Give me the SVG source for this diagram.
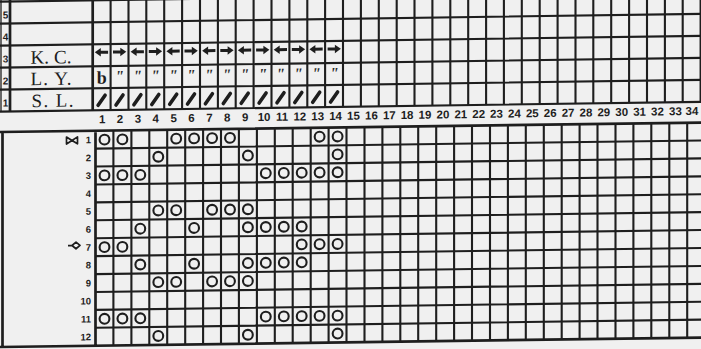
<svg xmlns="http://www.w3.org/2000/svg" width="701" height="349" viewBox="0 0 701 349">
<style>
.bg{fill:#f0f0f0}
.g{fill:none;stroke:#1e1e1e;stroke-width:2.1}
.tk{fill:none;stroke:#1e1e1e;stroke-width:2.7}
.thin{fill:none;stroke:#1e1e1e;stroke-width:1.3}
.o{fill:none;stroke:#1e1e1e;stroke-width:2.1}
.sl{stroke:#1e1e1e;stroke-width:3.6;stroke-linecap:round}
.mk{fill:none;stroke:#1e1e1e;stroke-width:1.7;stroke-linejoin:round}
.lab{font-family:"Liberation Serif",serif;font-size:19px;fill:#1e1e1e}
.num{font-family:"Liberation Sans",sans-serif;font-weight:bold;fill:#1e1e1e}
.cn{font-size:11.5px;text-anchor:middle}
.rn{font-size:9.5px;text-anchor:end}
.ln{font-size:10px;text-anchor:middle}
.dit{font-family:"Liberation Serif",serif;font-style:italic;font-weight:bold;font-size:16px;text-anchor:middle;fill:#2a2a2a}
.b{font-family:"Liberation Serif",serif;font-weight:bold;font-size:18px;text-anchor:middle;fill:#1e1e1e}
</style>
<defs>
<g id="al"><path d="M-6.8 0L-0.8-4.2V4.2Z" fill="#1e1e1e"/><path d="M-2 0H6.5" stroke="#1e1e1e" stroke-width="3"/></g>
<g id="ar"><use href="#al" transform="scale(-1,1)"/></g>
<line id="s" class="sl" x1="-3.5" y1="5" x2="3.5" y2="-5"/>
</defs>
<rect class="bg" x="0" y="0" width="701" height="349"/>

<g id="top-chart" transform="matrix(1 -0.014 0 1 0 0.14)">
  <g id="top-grid">
    <path class="g" d="M0 1.5H712M0 23.5H712M0 45.5H712M0 67.5H712M0 89.5H712M0 111.5H712"/>
    <path class="thin" d="M1 -14V111.5"/>
    <path class="tk" d="M10 -14V111.5M92.7 -14V111.5"/>
    <path class="g" d="M110.6 -14V111.5M128.5 -14V111.5M146.3 -14V111.5M164.2 -14V111.5M182.1 -14V111.5M200 -14V111.5M217.9 -14V111.5M235.7 -14V111.5M253.6 -14V111.5M271.5 -14V111.5M289.4 -14V111.5M307.3 -14V111.5M325.1 -14V111.5M343 -14V111.5M360.9 -14V111.5M378.8 -14V111.5M396.7 -14V111.5M414.5 -14V111.5M432.4 -14V111.5M450.3 -14V111.5M468.2 -14V111.5M486.1 -14V111.5M503.9 -14V111.5M521.8 -14V111.5M539.7 -14V111.5M557.6 -14V111.5M575.5 -14V111.5M593.3 -14V111.5M611.2 -14V111.5M629.1 -14V111.5M647 -14V111.5M664.9 -14V111.5M682.7 -14V111.5M700.6 -14V111.5"/>
  </g>
  <g id="top-row-numbers" class="num ln">
    <text x="5.5" y="18.5">5</text>
    <text x="5.5" y="40.5">4</text>
    <text x="5.5" y="62.5">3</text>
    <text x="5.5" y="84.5">2</text>
    <text x="5.5" y="106.5">1</text>
  </g>
  <g id="row-labels">
    <text class="lab" x="30.5" y="64" textLength="41" lengthAdjust="spacing">K. C.</text>
    <text class="lab" x="30.5" y="85.5" textLength="41" lengthAdjust="spacing">L. Y.</text>
    <text class="lab" x="31.5" y="107.5" textLength="42" lengthAdjust="spacing">S. L.</text>
  </g>
  <g id="kc-arrows">
    <use href="#al" x="101.6" y="53.5"/><use href="#ar" x="119.5" y="53.5"/>
    <use href="#al" x="137.4" y="53.5"/><use href="#ar" x="155.3" y="53.5"/>
    <use href="#al" x="173.2" y="53.5"/><use href="#ar" x="191" y="53.5"/>
    <use href="#al" x="208.9" y="53.5"/><use href="#ar" x="226.8" y="53.5"/>
    <use href="#al" x="244.7" y="53.5"/><use href="#ar" x="262.6" y="53.5"/>
    <use href="#al" x="280.5" y="53.5"/><use href="#ar" x="298.3" y="53.5"/>
    <use href="#al" x="316.2" y="53.5"/><use href="#ar" x="334.1" y="53.5"/>
  </g>
  <g id="ly-marks">
    <text class="b" x="101.8" y="85">b</text>
    <text class="dit" x="119.5" y="83">"</text><text class="dit" x="137.4" y="83">"</text>
    <text class="dit" x="155.3" y="83">"</text><text class="dit" x="173.2" y="83">"</text>
    <text class="dit" x="191" y="83">"</text><text class="dit" x="208.9" y="83">"</text>
    <text class="dit" x="226.8" y="83">"</text><text class="dit" x="244.7" y="83">"</text>
    <text class="dit" x="262.6" y="83">"</text><text class="dit" x="280.5" y="83">"</text>
    <text class="dit" x="298.3" y="83">"</text><text class="dit" x="316.2" y="83">"</text>
    <text class="dit" x="334.1" y="83">"</text>
  </g>
  <g id="sl-slashes">
    <use href="#s" x="101.6" y="101.5"/><use href="#s" x="119.5" y="101.5"/>
    <use href="#s" x="137.4" y="101.5"/><use href="#s" x="155.3" y="101.5"/>
    <use href="#s" x="173.2" y="101.5"/><use href="#s" x="191" y="101.5"/>
    <use href="#s" x="208.9" y="101.5"/><use href="#s" x="226.8" y="101.5"/>
    <use href="#s" x="244.7" y="101.5"/><use href="#s" x="262.6" y="101.5"/>
    <use href="#s" x="280.5" y="101.5"/><use href="#s" x="298.3" y="101.5"/>
    <use href="#s" x="316.2" y="101.5"/><use href="#s" x="334.1" y="101.5"/>
  </g>
  <g id="column-numbers" class="num cn">
    <text x="102.1" y="124.5">1</text><text x="120" y="124.5">2</text><text x="137.9" y="124.5">3</text>
    <text x="155.8" y="124.5">4</text><text x="173.7" y="124.5">5</text><text x="191.5" y="124.5">6</text>
    <text x="209.4" y="124.5">7</text><text x="227.3" y="124.5">8</text><text x="245.2" y="124.5">9</text>
    <text x="264.1" y="124.5">10</text><text x="282" y="124.5">11</text><text x="299.8" y="124.5">12</text>
    <text x="317.7" y="124.5">13</text><text x="335.6" y="124.5">14</text><text x="353.5" y="124.5">15</text>
    <text x="371.4" y="124.5">16</text><text x="389.3" y="124.5">17</text><text x="407.1" y="124.5">18</text>
    <text x="425" y="124.5">19</text><text x="442.9" y="124.5">20</text><text x="460.8" y="124.5">21</text>
    <text x="478.7" y="124.5">22</text><text x="496.5" y="124.5">23</text><text x="514.4" y="124.5">24</text>
    <text x="532.3" y="124.5">25</text><text x="550.2" y="124.5">26</text><text x="568.1" y="124.5">27</text>
    <text x="585.9" y="124.5">28</text><text x="603.8" y="124.5">29</text><text x="621.7" y="124.5">30</text>
    <text x="639.6" y="124.5">31</text><text x="657.5" y="124.5">32</text><text x="675.4" y="124.5">33</text>
    <text x="692" y="124.5">34</text>
  </g>
</g>

<g id="bottom-chart" transform="matrix(1 -0.0135 0 1 0 1.29)">
  <g id="bottom-grid">
    <path class="tk" d="M0 130.7H712M0 345.7H712M2.5 130.7V345.7M95.5 130.7V345.7"/>
    <path class="g" d="M95.5 148.6H712M95.5 166.5H712M95.5 184.5H712M95.5 202.4H712M95.5 220.3H712M95.5 238.2H712M95.5 256.1H712M95.5 274.1H712M95.5 292H712M95.5 309.9H712M95.5 327.8H712"/>
    <path class="g" d="M113.4 130.7V345.7M131.4 130.7V345.7M149.3 130.7V345.7M167.2 130.7V345.7M185.2 130.7V345.7M203.1 130.7V345.7M221 130.7V345.7M238.9 130.7V345.7M256.9 130.7V345.7M274.8 130.7V345.7M292.7 130.7V345.7M310.7 130.7V345.7M328.6 130.7V345.7M346.5 130.7V345.7M364.5 130.7V345.7M382.4 130.7V345.7M400.3 130.7V345.7M418.2 130.7V345.7M436.2 130.7V345.7M454.1 130.7V345.7M472 130.7V345.7M490 130.7V345.7M507.9 130.7V345.7M525.8 130.7V345.7M543.8 130.7V345.7M561.7 130.7V345.7M579.6 130.7V345.7M597.5 130.7V345.7M615.5 130.7V345.7M633.4 130.7V345.7M651.3 130.7V345.7M669.3 130.7V345.7M687.2 130.7V345.7"/>
  </g>
  <g id="row-markers">
    <path class="mk" d="M66.5 136.6L72 140.1L66.5 143.6ZM77.5 136.6L72 140.1L77.5 143.6Z"/>
    <path class="mk" d="M68 245.2H72M72 245.2L76 241.9L80 245.2L76 248.5Z"/>
  </g>
  <g id="bottom-row-numbers" class="num rn">
    <text x="91" y="143.1">1</text><text x="91" y="161">2</text><text x="91" y="178.9">3</text>
    <text x="91" y="196.8">4</text><text x="91" y="214.7">5</text><text x="91" y="232.7">6</text>
    <text x="91" y="250.6">7</text><text x="91" y="268.5">8</text><text x="91" y="286.4">9</text>
    <text x="91" y="304.3">10</text><text x="91" y="322.3">11</text><text x="91" y="340.2">12</text>
  </g>
  <g id="stitch-circles">
    <circle class="o" r="4.9" cx="104.5" cy="139.7"/><circle class="o" r="4.9" cx="122.4" cy="139.7"/><circle class="o" r="4.9" cx="176.2" cy="139.7"/><circle class="o" r="4.9" cx="194.1" cy="139.7"/><circle class="o" r="4.9" cx="212.1" cy="139.7"/><circle class="o" r="4.9" cx="230" cy="139.7"/><circle class="o" r="4.9" cx="319.6" cy="139.7"/><circle class="o" r="4.9" cx="337.6" cy="139.7"/>
    <circle class="o" r="4.9" cx="158.3" cy="157.6"/><circle class="o" r="4.9" cx="247.9" cy="157.6"/><circle class="o" r="4.9" cx="337.6" cy="157.6"/>
    <circle class="o" r="4.9" cx="104.5" cy="175.5"/><circle class="o" r="4.9" cx="122.4" cy="175.5"/><circle class="o" r="4.9" cx="140.3" cy="175.5"/><circle class="o" r="4.9" cx="265.8" cy="175.5"/><circle class="o" r="4.9" cx="283.8" cy="175.5"/><circle class="o" r="4.9" cx="301.7" cy="175.5"/><circle class="o" r="4.9" cx="319.6" cy="175.5"/><circle class="o" r="4.9" cx="337.6" cy="175.5"/>
    <circle class="o" r="4.9" cx="158.3" cy="211.3"/><circle class="o" r="4.9" cx="176.2" cy="211.3"/><circle class="o" r="4.9" cx="212.1" cy="211.3"/><circle class="o" r="4.9" cx="230" cy="211.3"/><circle class="o" r="4.9" cx="247.9" cy="211.3"/>
    <circle class="o" r="4.9" cx="140.3" cy="229.3"/><circle class="o" r="4.9" cx="194.1" cy="229.3"/><circle class="o" r="4.9" cx="247.9" cy="229.3"/><circle class="o" r="4.9" cx="265.8" cy="229.3"/><circle class="o" r="4.9" cx="283.8" cy="229.3"/><circle class="o" r="4.9" cx="301.7" cy="229.3"/>
    <circle class="o" r="4.9" cx="104.5" cy="247.2"/><circle class="o" r="4.9" cx="122.4" cy="247.2"/><circle class="o" r="4.9" cx="301.7" cy="247.2"/><circle class="o" r="4.9" cx="319.6" cy="247.2"/><circle class="o" r="4.9" cx="337.6" cy="247.2"/>
    <circle class="o" r="4.9" cx="140.3" cy="265.1"/><circle class="o" r="4.9" cx="194.1" cy="265.1"/><circle class="o" r="4.9" cx="247.9" cy="265.1"/><circle class="o" r="4.9" cx="265.8" cy="265.1"/><circle class="o" r="4.9" cx="283.8" cy="265.1"/><circle class="o" r="4.9" cx="301.7" cy="265.1"/>
    <circle class="o" r="4.9" cx="158.3" cy="283"/><circle class="o" r="4.9" cx="176.2" cy="283"/><circle class="o" r="4.9" cx="212.1" cy="283"/><circle class="o" r="4.9" cx="230" cy="283"/><circle class="o" r="4.9" cx="247.9" cy="283"/>
    <circle class="o" r="4.9" cx="104.5" cy="318.9"/><circle class="o" r="4.9" cx="122.4" cy="318.9"/><circle class="o" r="4.9" cx="140.3" cy="318.9"/><circle class="o" r="4.9" cx="265.8" cy="318.9"/><circle class="o" r="4.9" cx="283.8" cy="318.9"/><circle class="o" r="4.9" cx="301.7" cy="318.9"/><circle class="o" r="4.9" cx="319.6" cy="318.9"/><circle class="o" r="4.9" cx="337.6" cy="318.9"/>
    <circle class="o" r="4.9" cx="158.3" cy="336.8"/><circle class="o" r="4.9" cx="247.9" cy="336.8"/><circle class="o" r="4.9" cx="337.6" cy="336.8"/>
  </g>
</g>
</svg>
